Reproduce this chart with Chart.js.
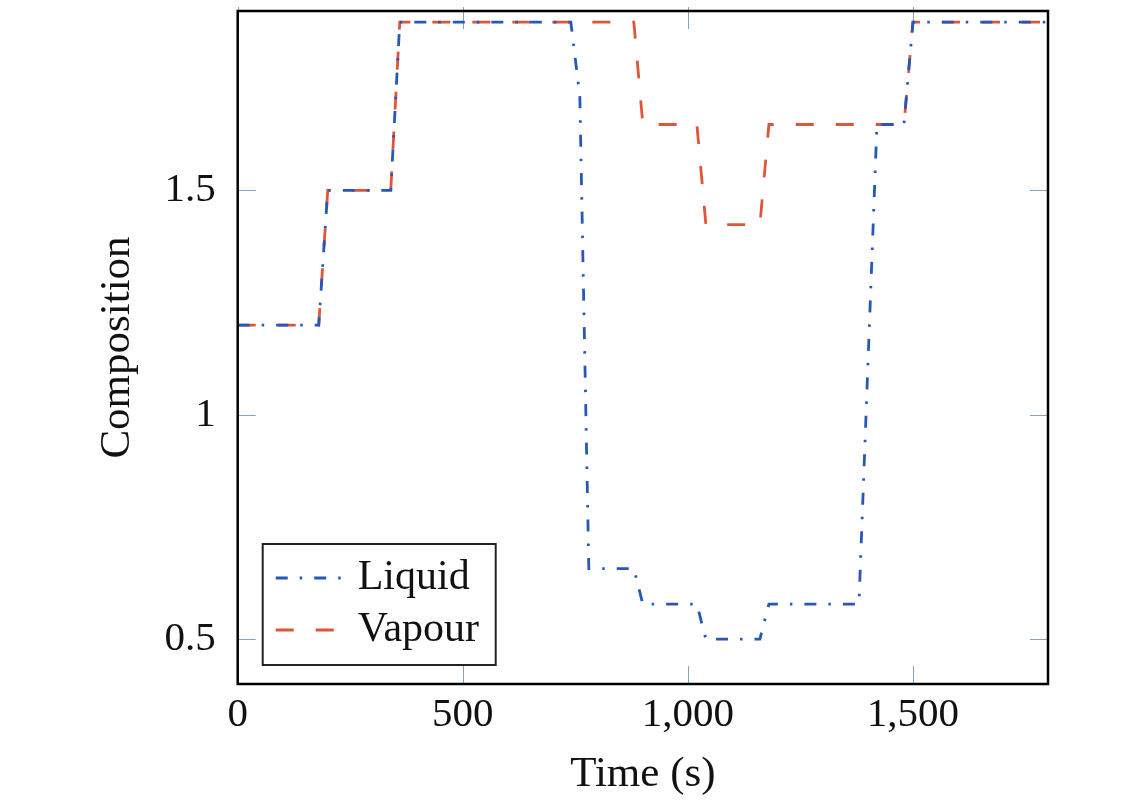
<!DOCTYPE html>
<html lang="en">
<head>
  <meta charset="UTF-8" />
  <title>Liquid and Vapour Composition</title>
  <script src="https://cdn.jsdelivr.net/npm/chart.js"></script>
  <style>
    html, body { margin: 0; padding: 0; background: #fff; }
    #wrap { width: 1143px; height: 807px; }
  </style>
</head>
<body>
  <div id="wrap"><canvas id="compChart"></canvas></div>

  <script>
    // time (s) and composition
    const timeS  = [0, 180, 200, 340, 360, 740, 760, 780, 880, 900, 1020, 1040, 1160, 1180, 1380, 1420, 1480, 1500, 1800];
    const liquid = [1.2, 1.2, 1.5, 1.5, 1.875, 1.875, 1.71, 0.657, 0.657, 0.578, 0.578, 0.5, 0.5, 0.578, 0.578, 1.647, 1.647, 1.875, 1.875];
    const vapour = [1.2, 1.2, 1.5, 1.5, 1.875, 1.875, 1.875, 1.875, 1.875, 1.647, 1.647, 1.424, 1.424, 1.647, 1.647, 1.647, 1.647, 1.875, 1.875];
    const xTicks = [0, 500, 1000, 1500];
    const yTicks = [0.5, 1, 1.5];

    const serif = "'Liberation Serif', 'Times New Roman', serif";
    const tickColor = "#7fa4c2";

    // inward tick marks on all four sides, then the frame
    const innerTicks = {
      id: "innerTicks",
      beforeDatasetsDraw(chart) {
        const { ctx, chartArea: a, scales: { x, y } } = chart;
        const len = 18;
        ctx.save();
        ctx.strokeStyle = tickColor;
        ctx.lineWidth = 1;
        ctx.beginPath();
        x.ticks.forEach(t => {
          const px = Math.round(x.getPixelForValue(t.value)) + 0.5;
          ctx.moveTo(px, a.top - 4); ctx.lineTo(px, a.top + len);
          ctx.moveTo(px, a.bottom); ctx.lineTo(px, a.bottom - len);
        });
        y.ticks.forEach(t => {
          const py = Math.round(y.getPixelForValue(t.value)) + 0.5;
          ctx.moveTo(a.left, py); ctx.lineTo(a.left + len, py);
          ctx.moveTo(a.right, py); ctx.lineTo(a.right - len, py);
        });
        ctx.stroke();
        ctx.restore();
      },
      afterDatasetsDraw(chart) {
        const { ctx, chartArea: a } = chart;
        ctx.save();
        ctx.strokeStyle = "#000";
        ctx.lineWidth = 2.5;
        ctx.strokeRect(a.left, a.top, a.width, a.height);
        ctx.restore();
      }
    };

    // boxed legend in the lower left of the plot
    const boxLegend = {
      id: "boxLegend",
      afterDraw(chart) {
        const { ctx, chartArea: a } = chart;
        const left = a.left + 25, top = a.bottom - 140, w = 233, h = 121;
        ctx.save();
        ctx.fillStyle = "#fff";
        ctx.fillRect(left, top, w, h);
        ctx.strokeStyle = "#222";
        ctx.lineWidth = 2;
        ctx.strokeRect(left, top, w, h);
        chart.data.datasets.forEach((ds, i) => {
          const yy = top + 34 + i * 52;
          ctx.setLineDash(ds.borderDash);
          ctx.strokeStyle = ds.borderColor;
          ctx.lineWidth = ds.borderWidth;
          ctx.beginPath();
          ctx.moveTo(left + 13, yy);
          ctx.lineTo(left + 85, yy);
          ctx.stroke();
          ctx.setLineDash([]);
          ctx.fillStyle = "#111";
          ctx.font = "42px " + serif;
          ctx.textBaseline = "middle";
          ctx.fillText(ds.label, left + 95, yy);
        });
        ctx.restore();
      }
    };

    new Chart(document.getElementById("compChart"), {
      type: "line",
      data: {
        datasets: [
          {
            label: "Liquid",
            data: timeS.map((t, i) => ({ x: t, y: liquid[i] })),
            borderColor: "#2558b8",
            borderWidth: 2.8,
            borderDash: [12, 12, 2.5, 12],
            pointRadius: 0,
            tension: 0,
            fill: false
          },
          {
            label: "Vapour",
            data: timeS.map((t, i) => ({ x: t, y: vapour[i] })),
            borderColor: "#e0543a",
            borderWidth: 2.8,
            borderDash: [18, 22],
            pointRadius: 0,
            tension: 0,
            fill: false
          }
        ]
      },
      options: {
        responsive: true,
        maintainAspectRatio: false,
        animation: false,
        layout: { padding: { top: 11, right: 95, bottom: 0, left: 0 } },
        plugins: {
          legend: { display: false },
          tooltip: { enabled: false }
        },
        scales: {
          x: {
            type: "linear",
            min: 0,
            max: 1800,
            afterBuildTicks: s => { s.ticks = xTicks.map(v => ({ value: v })); },
            afterFit: s => { s.height = 123; s.paddingLeft = 0; s.paddingRight = 0; },
            grid: { display: false },
            border: { display: false },
            ticks: {
              color: "#111",
              font: { family: serif, size: 41 },
              padding: -1,
              maxRotation: 0,
              callback: v => v.toLocaleString("en-US")
            },
            title: {
              display: true,
              text: "Time (s)",
              color: "#111",
              font: { family: serif, size: 43 },
              padding: { top: 0, bottom: 6 }
            }
          },
          y: {
            min: 0.4,
            max: 1.9,
            afterBuildTicks: s => { s.ticks = yTicks.map(v => ({ value: v })); },
            afterFit: s => { s.width = 237.7; s.paddingTop = 0; s.paddingBottom = 0; },
            grid: { display: false },
            border: { display: false },
            ticks: {
              color: "#111",
              font: { family: serif, size: 41 },
              padding: 14,
              callback: v => String(v)
            },
            title: {
              display: true,
              text: "Composition",
              color: "#111",
              font: { family: serif, size: 43 },
              padding: { top: 92, bottom: 0 }
            }
          }
        }
      },
      plugins: [innerTicks, boxLegend]
    });
  </script>
</body>
</html>
